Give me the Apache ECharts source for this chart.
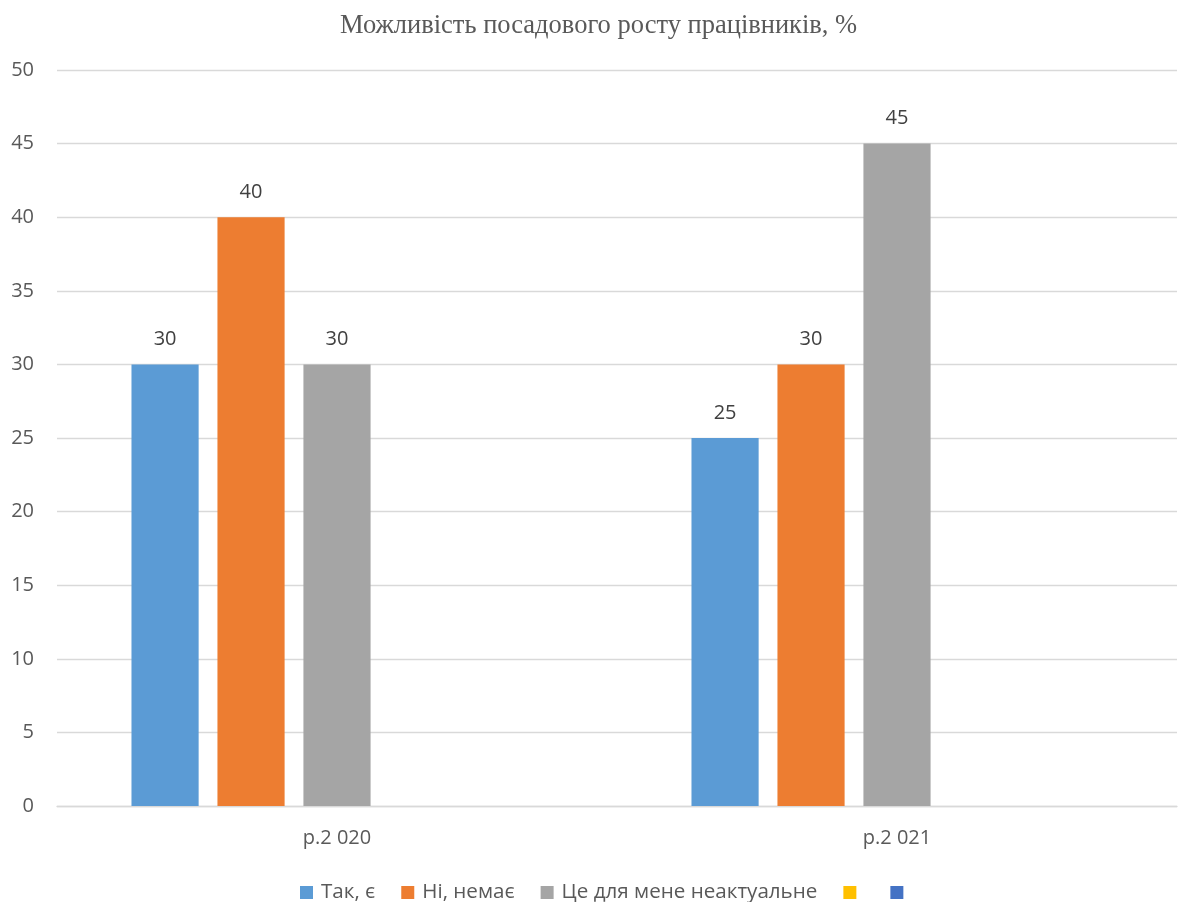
<!DOCTYPE html>
<html><head><meta charset="utf-8">
<script src="https://cdn.jsdelivr.net/npm/echarts@6/dist/echarts.min.js"></script>
<style>html,body{margin:0;padding:0;background:#fff}#c{width:1179px;height:902px}</style>
</head><body><div id="c"></div>
<script>
const categories = ['р.2 020', 'р.2 021'];
const seriesNames = ['Так, є', 'Ні, немає', 'Це для мене неактуальне', '\u200b', '\u200b\u200b'];
const seriesColors = ['#5b9bd5', '#ed7d31', '#a5a5a5', '#ffc000', '#4472c4'];
const valuesYes = [30, 25];
const valuesNo = [40, 30];
const valuesNA = [30, 45];
const valuesEmpty1 = [null, null];
const valuesEmpty2 = [null, null];
const yTicks = [0, 50, 5];

const allValues = [valuesYes, valuesNo, valuesNA, valuesEmpty1, valuesEmpty2];
const chart = echarts.init(document.getElementById('c'));
const sans = '"Open Sans", sans-serif';
chart.setOption({
  backgroundColor: '#fff',
  animation: false,
  title: {
    text: 'Можливість посадового росту працівників, %',
    left: 335, top: 8,
    textStyle: {fontFamily: '"Liberation Serif", "Times New Roman", serif', fontSize: 26.5, fontWeight: 'normal', color: '#595959'}
  },
  legend: {
    top: 882, left: 300, padding: 0, itemWidth: 13, itemHeight: 13, itemGap: 26,
    icon: 'rect',
    data: seriesNames,
    textStyle: {fontFamily: sans, fontSize: 20.6, color: '#595959', padding: [0, 0, 0, 3]}
  },
  grid: {left: 57, right: 2, top: 70, bottom: 96, containLabel: false},
  xAxis: {
    type: 'category', data: categories,
    axisLine: {lineStyle: {color: '#d9d9d9', width: 1.3}}, axisTick: {show: false},
    axisLabel: {fontFamily: sans, fontSize: 20, color: '#595959', margin: 22}
  },
  yAxis: {
    type: 'value', min: yTicks[0], max: yTicks[1], interval: yTicks[2],
    axisLine: {show: false}, axisTick: {show: false},
    splitLine: {lineStyle: {color: '#d9d9d9', width: 1.3}},
    axisLabel: {fontFamily: sans, fontSize: 20, color: '#595959', margin: 23}
  },
  series: seriesNames.map((n, i) => ({
    name: n, type: 'bar', data: allValues[i],
    barGap: '28%', barCategoryGap: '26.6%',
    itemStyle: {color: seriesColors[i]},
    label: {show: true, position: 'top', distance: 15, fontFamily: sans, fontSize: 20, color: '#404040'}
  }))
});
</script></body></html>
